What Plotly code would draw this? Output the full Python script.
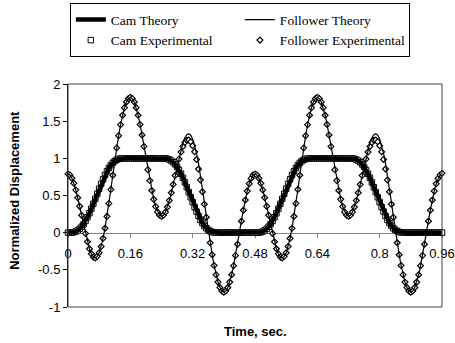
import plotly.graph_objects as go

# ---------------- data ----------------
time_s = [
    0.000, 0.005, 0.010, 0.015, 0.020, 0.025, 0.030, 0.035, 0.040, 0.045,
    0.050, 0.055, 0.060, 0.065, 0.070, 0.075, 0.080, 0.085, 0.090, 0.095,
    0.100, 0.105, 0.110, 0.115, 0.120, 0.125, 0.130, 0.135, 0.140, 0.145,
    0.150, 0.155, 0.160, 0.165, 0.170, 0.175, 0.180, 0.185, 0.190, 0.195,
    0.200, 0.205, 0.210, 0.215, 0.220, 0.225, 0.230, 0.235, 0.240, 0.245,
    0.250, 0.255, 0.260, 0.265, 0.270, 0.275, 0.280, 0.285, 0.290, 0.295,
    0.300, 0.305, 0.310, 0.315, 0.320, 0.325, 0.330, 0.335, 0.340, 0.345,
    0.350, 0.355, 0.360, 0.365, 0.370, 0.375, 0.380, 0.385, 0.390, 0.395,
    0.400, 0.405, 0.410, 0.415, 0.420, 0.425, 0.430, 0.435, 0.440, 0.445,
    0.450, 0.455, 0.460, 0.465, 0.470, 0.475,
    0.480, 0.485, 0.490, 0.495,
    0.500, 0.505, 0.510, 0.515, 0.520, 0.525, 0.530, 0.535, 0.540, 0.545,
    0.550, 0.555, 0.560, 0.565, 0.570, 0.575, 0.580, 0.585, 0.590, 0.595,
    0.600, 0.605, 0.610, 0.615, 0.620, 0.625, 0.630, 0.635, 0.640, 0.645,
    0.650, 0.655, 0.660, 0.665, 0.670, 0.675, 0.680, 0.685, 0.690, 0.695,
    0.700, 0.705, 0.710, 0.715, 0.720, 0.725, 0.730, 0.735, 0.740, 0.745,
    0.750, 0.755, 0.760, 0.765, 0.770, 0.775, 0.780, 0.785, 0.790, 0.795,
    0.800, 0.805, 0.810, 0.815, 0.820, 0.825, 0.830, 0.835, 0.840, 0.845,
    0.850, 0.855, 0.860, 0.865, 0.870, 0.875, 0.880, 0.885, 0.890, 0.895,
    0.900, 0.905, 0.910, 0.915, 0.920, 0.925, 0.930, 0.935, 0.940, 0.945,
    0.950, 0.955, 0.960,
]

cam_theory = [
    0.000, 0.000, 0.002, 0.007, 0.016, 0.031, 0.052, 0.080, 0.115, 0.158,
    0.207, 0.262, 0.323, 0.388, 0.455, 0.523, 0.590, 0.656, 0.718, 0.775,
    0.827, 0.871, 0.909, 0.940, 0.963, 0.980, 0.991, 0.997, 0.999, 1.000,
    1.000, 1.000, 1.000, 1.000, 1.000, 1.000, 1.000, 1.000, 1.000, 1.000,
    1.000, 1.000, 1.000, 1.000, 1.000, 1.000, 1.000, 1.000, 1.000, 1.000,
    0.998, 0.993, 0.984, 0.969, 0.948, 0.920, 0.885, 0.842, 0.793, 0.738,
    0.677, 0.612, 0.545, 0.477, 0.410, 0.344, 0.282, 0.225, 0.173, 0.129,
    0.091, 0.060, 0.037, 0.020, 0.009, 0.003, 0.001, 0.000, 0.000, 0.000,
    0.000, 0.000, 0.000, 0.000, 0.000, 0.000, 0.000, 0.000, 0.000, 0.000,
    0.000, 0.000, 0.000, 0.000, 0.000, 0.000,
    0.000, 0.000, 0.002, 0.007, 0.016, 0.031, 0.052, 0.080, 0.115, 0.158,
    0.207, 0.262, 0.323, 0.388, 0.455, 0.523, 0.590, 0.656, 0.718, 0.775,
    0.827, 0.871, 0.909, 0.940, 0.963, 0.980, 0.991, 0.997, 0.999, 1.000,
    1.000, 1.000, 1.000, 1.000, 1.000, 1.000, 1.000, 1.000, 1.000, 1.000,
    1.000, 1.000, 1.000, 1.000, 1.000, 1.000, 1.000, 1.000, 1.000, 1.000,
    0.998, 0.993, 0.984, 0.969, 0.948, 0.920, 0.885, 0.842, 0.793, 0.738,
    0.677, 0.612, 0.545, 0.477, 0.410, 0.344, 0.282, 0.225, 0.173, 0.129,
    0.091, 0.060, 0.037, 0.020, 0.009, 0.003, 0.001, 0.000, 0.000, 0.000,
    0.000, 0.000, 0.000, 0.000, 0.000, 0.000, 0.000, 0.000, 0.000, 0.000,
    0.000, 0.000, 0.000, 0.000, 0.000, 0.000,
    0.000,
]

cam_experimental = [
    0.000, 0.000, 0.002, 0.007, 0.016, 0.031, 0.052, 0.080, 0.115, 0.158,
    0.207, 0.262, 0.323, 0.388, 0.455, 0.523, 0.590, 0.656, 0.718, 0.775,
    0.827, 0.871, 0.909, 0.940, 0.963, 0.980, 0.991, 0.997, 0.999, 1.000,
    1.000, 1.000, 1.000, 1.000, 1.000, 1.000, 1.000, 1.000, 1.000, 1.000,
    1.000, 1.000, 1.000, 1.000, 1.000, 1.000, 1.000, 1.000, 1.000, 1.000,
    0.998, 0.993, 0.984, 0.969, 0.948, 0.920, 0.885, 0.842, 0.793, 0.738,
    0.677, 0.612, 0.545, 0.477, 0.410, 0.344, 0.282, 0.225, 0.173, 0.129,
    0.091, 0.060, 0.037, 0.020, 0.009, 0.003, 0.001, 0.000, 0.000, 0.000,
    0.000, 0.000, 0.000, 0.000, 0.000, 0.000, 0.000, 0.000, 0.000, 0.000,
    0.000, 0.000, 0.000, 0.000, 0.000, 0.000,
    0.000, 0.000, 0.002, 0.007, 0.016, 0.031, 0.052, 0.080, 0.115, 0.158,
    0.207, 0.262, 0.323, 0.388, 0.455, 0.523, 0.590, 0.656, 0.718, 0.775,
    0.827, 0.871, 0.909, 0.940, 0.963, 0.980, 0.991, 0.997, 0.999, 1.000,
    1.000, 1.000, 1.000, 1.000, 1.000, 1.000, 1.000, 1.000, 1.000, 1.000,
    1.000, 1.000, 1.000, 1.000, 1.000, 1.000, 1.000, 1.000, 1.000, 1.000,
    0.998, 0.993, 0.984, 0.969, 0.948, 0.920, 0.885, 0.842, 0.793, 0.738,
    0.677, 0.612, 0.545, 0.477, 0.410, 0.344, 0.282, 0.225, 0.173, 0.129,
    0.091, 0.060, 0.037, 0.020, 0.009, 0.003, 0.001, 0.000, 0.000, 0.000,
    0.000, 0.000, 0.000, 0.000, 0.000, 0.000, 0.000, 0.000, 0.000, 0.000,
    0.000, 0.000, 0.000, 0.000, 0.000, 0.000,
    0.000,
]

follower_theory = [
    0.790, 0.775, 0.732, 0.664, 0.575, 0.470, 0.354, 0.234, 0.115, -0.010,
    -0.122, -0.216, -0.285, -0.327, -0.340, -0.320, -0.270, -0.187, -0.077, 0.060,
    0.219, 0.393, 0.580, 0.772, 0.963, 1.140, 1.305, 1.453, 1.579, 1.682,
    1.758, 1.804, 1.820, 1.804, 1.758, 1.682, 1.580, 1.456, 1.314, 1.160,
    1.000, 0.848, 0.701, 0.567, 0.448, 0.351, 0.279, 0.235, 0.220, 0.235,
    0.277, 0.344, 0.432, 0.536, 0.649, 0.768, 0.885, 1.008, 1.118, 1.210,
    1.278, 1.319, 1.330, 1.311, 1.260, 1.178, 1.067, 0.932, 0.774, 0.601,
    0.416, 0.226, 0.037, -0.136, -0.297, -0.441, -0.565, -0.665, -0.739, -0.785,
    -0.800, -0.785, -0.739, -0.665, -0.566, -0.444, -0.306, -0.156, 0.000, 0.154,
    0.302, 0.439, 0.559, 0.657, 0.730, 0.775,
    0.790, 0.775, 0.732, 0.664, 0.575, 0.470, 0.354, 0.234, 0.115, -0.010,
    -0.122, -0.216, -0.285, -0.327, -0.340, -0.320, -0.270, -0.187, -0.077, 0.060,
    0.219, 0.393, 0.580, 0.772, 0.963, 1.140, 1.305, 1.453, 1.579, 1.682,
    1.758, 1.804, 1.820, 1.804, 1.758, 1.682, 1.580, 1.456, 1.314, 1.160,
    1.000, 0.848, 0.701, 0.567, 0.448, 0.351, 0.279, 0.235, 0.220, 0.235,
    0.277, 0.344, 0.432, 0.536, 0.649, 0.768, 0.885, 1.008, 1.118, 1.210,
    1.278, 1.319, 1.330, 1.311, 1.260, 1.178, 1.067, 0.932, 0.774, 0.601,
    0.416, 0.226, 0.037, -0.136, -0.297, -0.441, -0.565, -0.665, -0.739, -0.785,
    -0.800, -0.785, -0.739, -0.665, -0.566, -0.444, -0.306, -0.156, 0.000, 0.154,
    0.302, 0.439, 0.559, 0.657, 0.730, 0.775,
    0.800,
]

follower_experimental = [
    0.790, 0.775, 0.732, 0.664, 0.575, 0.470, 0.354, 0.234, 0.115, -0.010,
    -0.122, -0.216, -0.285, -0.327, -0.340, -0.320, -0.270, -0.187, -0.077, 0.060,
    0.219, 0.393, 0.580, 0.772, 0.963, 1.140, 1.305, 1.453, 1.579, 1.682,
    1.758, 1.804, 1.820, 1.804, 1.758, 1.682, 1.580, 1.456, 1.314, 1.160,
    1.000, 0.848, 0.701, 0.567, 0.448, 0.351, 0.279, 0.235, 0.220, 0.235,
    0.277, 0.344, 0.432, 0.536, 0.649, 0.768, 0.885, 0.990, 1.084, 1.160,
    1.214, 1.244, 1.247, 1.222, 1.170, 1.089, 0.984, 0.857, 0.710, 0.551,
    0.382, 0.208, 0.037, -0.136, -0.297, -0.441, -0.565, -0.665, -0.739, -0.785,
    -0.800, -0.785, -0.739, -0.665, -0.566, -0.444, -0.306, -0.156, 0.000, 0.154,
    0.302, 0.439, 0.559, 0.657, 0.730, 0.775,
    0.790, 0.775, 0.732, 0.664, 0.575, 0.470, 0.354, 0.234, 0.115, -0.010,
    -0.122, -0.216, -0.285, -0.327, -0.340, -0.320, -0.270, -0.187, -0.077, 0.060,
    0.219, 0.393, 0.580, 0.772, 0.963, 1.140, 1.305, 1.453, 1.579, 1.682,
    1.758, 1.804, 1.820, 1.804, 1.758, 1.682, 1.580, 1.456, 1.314, 1.160,
    1.000, 0.848, 0.701, 0.567, 0.448, 0.351, 0.279, 0.235, 0.220, 0.235,
    0.277, 0.344, 0.432, 0.536, 0.649, 0.768, 0.885, 0.990, 1.084, 1.160,
    1.214, 1.244, 1.247, 1.222, 1.170, 1.089, 0.984, 0.857, 0.710, 0.551,
    0.382, 0.208, 0.037, -0.136, -0.297, -0.441, -0.565, -0.665, -0.739, -0.785,
    -0.800, -0.785, -0.739, -0.665, -0.566, -0.444, -0.306, -0.156, 0.000, 0.154,
    0.302, 0.439, 0.559, 0.657, 0.730, 0.775,
    0.800,
]

x_tick_vals = [0, 0.16, 0.32, 0.48, 0.64, 0.8, 0.96]
x_tick_text = ["0", "0.16", "0.32", "0.48", "0.64", "0.8", "0.96"]
y_tick_vals = [2, 1.5, 1, 0.5, 0, -0.5, -1]
y_tick_text = ["2", "1.5", "1", "0.5", "0", "-0.5", "-1"]

# ---------------- figure ----------------
SANS = "Liberation Sans, Arial, sans-serif"
SERIF = "Liberation Serif, Times New Roman, serif"

fig = go.Figure()
# markers first, theory lines drawn on top (legend order kept with legendrank)
fig.add_trace(go.Scatter(
    x=time_s, y=cam_experimental, mode="markers", name="Cam Experimental",
    marker=dict(symbol="square", size=5.5, color="white",
                line=dict(color="black", width=1)),
    cliponaxis=False, legendrank=3))
fig.add_trace(go.Scatter(
    x=time_s, y=follower_experimental, mode="markers", name="Follower Experimental",
    marker=dict(symbol="diamond", size=4.5, color="white",
                line=dict(color="black", width=1.2)),
    cliponaxis=False, legendrank=4))
fig.add_trace(go.Scatter(
    x=time_s, y=cam_theory, mode="lines", name="Cam Theory",
    line=dict(color="black", width=4.5), legendrank=1))
fig.add_trace(go.Scatter(
    x=time_s, y=follower_theory, mode="lines", name="Follower Theory",
    line=dict(color="black", width=1.2), legendrank=2))

fig.update_layout(
    width=455, height=343,
    margin=dict(l=68, r=13, t=84, b=36, pad=0, autoexpand=False),
    paper_bgcolor="white", plot_bgcolor="white",
    showlegend=True,
    legend=dict(
        orientation="h", x=0.005, xanchor="left", y=1.362, yanchor="top",
        xref="paper", yref="paper",
        bordercolor="black", borderwidth=1, bgcolor="white",
        font=dict(family=SERIF, size=13.5, color="black"),
        entrywidth=124, entrywidthmode="pixels", tracegroupgap=0,
    ),
    xaxis=dict(
        range=[0, 0.96], anchor="free", position=1 / 3,
        tickmode="array", tickvals=x_tick_vals, ticktext=x_tick_text,
        ticks="outside", ticklen=4, tickcolor="#808080",
        showline=True, linecolor="#808080", linewidth=1,
        showgrid=False, zeroline=False, layer="below traces",
        tickfont=dict(family=SANS, size=13, color="black"),
        ticklabelstandoff=5,
    ),
    yaxis=dict(
        range=[-1, 2], domain=[0, 1],
        tickmode="array", tickvals=y_tick_vals, ticktext=y_tick_text,
        ticks="outside", ticklen=4, tickcolor="black",
        showline=True, linecolor="black", linewidth=1,
        showgrid=False, zeroline=False,
        tickfont=dict(family=SANS, size=13, color="black"),
    ),
    shapes=[dict(type="rect", xref="paper", yref="paper", x0=0, x1=1, y0=0, y1=1,
                 line=dict(color="#404040", width=1), layer="above")],
    annotations=[
        dict(text="Normalized Displacement", textangle=-90, showarrow=False,
             xref="paper", yref="paper", x=-0.142, y=0.525,
             xanchor="center", yanchor="middle",
             font=dict(family=SANS, size=13, color="black", weight="bold")),
        dict(text="Time, sec.", showarrow=False,
             xref="paper", yref="paper", x=0.5, y=-0.111,
             xanchor="center", yanchor="middle",
             font=dict(family=SANS, size=13, color="black", weight="bold")),
    ],
)

fig.write_html("out.html", config={"displayModeBar": False},
               post_script="document.body.style.margin='0';")
